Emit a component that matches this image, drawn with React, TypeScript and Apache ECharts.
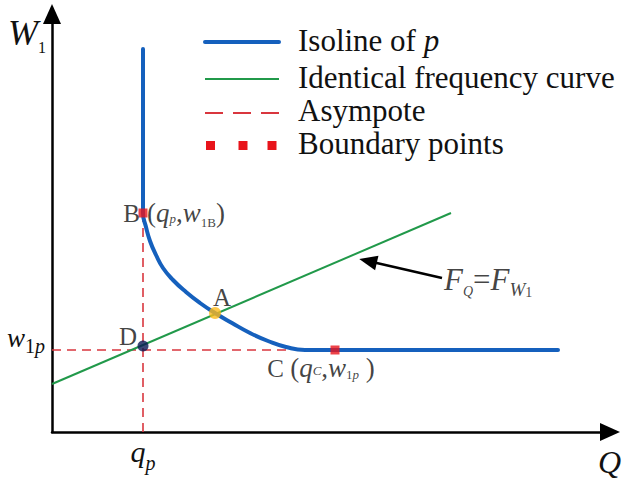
import React, { useEffect, useRef } from 'react';
import * as echarts from 'echarts';

const FONT = 'Liberation Serif, Times New Roman, serif';
const BLUE = '#1560BD';
const GREEN = '#21994A';
const RED_DASH = '#D9363E';
const RED = '#E8141B';
const GOLD = '#FBBA1B';
const NAVY = '#0B1A55';
const INK = '#111111';

// Isoline of p (Q on x, W1 on y)
const isolineQ = [91, 91, 94, 98, 104, 111, 121, 134, 148, 163, 180, 198, 216, 234, 253, 283, 506];
const isolineW = [383, 219, 205, 191, 177, 164, 152, 140, 129, 119, 109, 99, 91, 85, 82, 82, 82];
// Identical frequency curve F_Q = F_W1
const freqQ = [0, 399];
const freqW = [48, 219];
// Key values
const qp = 91;
const w1p = 82;
const w1B = 219;
const qC = 283;
const axisMaxQ = 558;
const axisMaxW = 418;
// Asymptotes
const asymVerticalW = [0, w1B];
const asymHorizontalQ = [0, 238];
// Special points
const pointA = [163, 119];
const pointD = [91, 86];
const boundaryQ = [qp, qC];
const boundaryW = [w1B, w1p];
// Annotation arrow (tip, tail)
const arrowQ = [316, 390];
const arrowW = [171, 154];

const zip = (xs: number[], ys: number[]) => xs.map((x, i) => [x, ys[i]]);

const serif = (size: number, italic = false, extra: any = {}) => ({
  fontFamily: FONT,
  fontSize: size,
  fontStyle: italic ? 'italic' : 'normal',
  color: INK,
  ...extra,
});

export default function App() {
  const ref = useRef<HTMLDivElement>(null);

  useEffect(() => {
    if (!ref.current) return;
    const chart = echarts.init(ref.current, undefined, { renderer: 'svg' });

    const pointRich = {
      t: serif(25, false, { lineHeight: 28 }),
      p: serif(27, false, { lineHeight: 28 }),
      i: serif(27, true, { lineHeight: 28 }),
      sp: serif(13, true, { lineHeight: 28, padding: [10, 0, 0, 0] }),
      sn: serif(13, false, { lineHeight: 28, padding: [18, 0, 0, 0] }),
      spc: serif(13, true, { lineHeight: 28, padding: [4, 0, 0, 0] }),
      snc: serif(13, false, { lineHeight: 28, padding: [12, 0, 0, 0] }),
      sic: serif(13, true, { lineHeight: 28, padding: [12, 0, 0, 0] }),
      F: serif(31, true, { lineHeight: 32 }),
      sQ: serif(14, true, { lineHeight: 32, padding: [24, 0, 0, 0] }),
      eq: serif(31, false, { lineHeight: 32 }),
      sW: serif(19, true, { lineHeight: 32, padding: [20, 0, 0, 0] }),
      s1: serif(14, false, { lineHeight: 32, padding: [26, 0, 0, 0] }),
    };

    const labelItems = [
      { value: [qp, w1B], label: { position: 'left', distance: 3, formatter: '{t|B}' } },
      {
        value: [qp, w1B],
        label: { position: 'right', distance: 4, formatter: '{p|(}{i|q}{sp|p}{p|,}{i|w}{sn|1B}{p|)}' },
      },
      { value: pointA, label: { position: 'inside', offset: [7, -16], formatter: '{t|A}' } },
      { value: pointD, label: { position: 'inside', offset: [-15, -10], formatter: '{t|D}' } },
      {
        value: [qC, w1p],
        label: {
          position: 'inside',
          offset: [-14, 18],
          formatter: '{t|C }{p|(}{i|q}{spc|C}{p|,}{i|w}{snc|1}{sic|p}{p| )}',
        },
      },
      {
        value: [arrowQ[1], arrowW[1]],
        label: {
          position: 'right',
          distance: 2,
          offset: [0, 1],
          formatter: '{F|F}{sQ|Q}{eq|=}{F|F}{sW|W}{s1|1}',
        },
      },
    ];

    const legendText = (y: number, rich: string) => ({
      type: 'text',
      x: 298,
      y,
      z: 100,
      style: {
        text: rich,
        fontFamily: FONT,
        fontSize: 31,
        verticalAlign: 'middle',
        fill: INK,
        rich: {
          n: { fontFamily: FONT, fontSize: 31, fill: INK },
          i: { fontFamily: FONT, fontSize: 31, fontStyle: 'italic', fill: INK },
        },
      },
    });

    const option: any = {
      animation: false,
      backgroundColor: '#ffffff',
      textStyle: { fontFamily: FONT },
      grid: { left: 52, right: 14, top: 14, bottom: 51, containLabel: false, outerBoundsMode: 'none' },
      xAxis: {
        type: 'value',
        min: 0,
        max: axisMaxQ,
        axisLine: {
          show: true,
          onZero: false,
          lineStyle: { color: '#000', width: 2.5 },
          symbol: ['none', 'triangle'],
          symbolSize: [18, 20],
        },
        axisTick: { show: false },
        splitLine: { show: false },
        axisLabel: {
          customValues: [qp],
          margin: 4,
          formatter: () => '{q|q}{s|p}',
          rich: {
            q: serif(30, true, { lineHeight: 30 }),
            s: serif(20, true, { lineHeight: 30, padding: [24, 0, 0, 0] }),
          },
        },
        name: 'Q',
        nameLocation: 'end',
        nameGap: -12,
        nameTextStyle: {
          fontFamily: FONT,
          fontSize: 32,
          fontStyle: 'italic',
          color: INK,
          align: 'left',
          verticalAlign: 'top',
          padding: [14, 0, 0, 0],
        },
      },
      yAxis: {
        type: 'value',
        min: 0,
        max: axisMaxW,
        axisLine: {
          show: true,
          onZero: false,
          lineStyle: { color: '#000', width: 2.5 },
          symbol: ['none', 'triangle'],
          symbolSize: [18, 20],
        },
        axisTick: { show: false },
        splitLine: { show: false },
        axisLabel: {
          customValues: [w1p],
          margin: 7,
          formatter: () => '{w|w}{n|1}{s|p}',
          rich: {
            w: serif(27, true, { lineHeight: 28, padding: [0, 0, 24, 0] }),
            n: serif(20, false, { lineHeight: 28, padding: [0, 0, 8, 0] }),
            s: serif(20, true, { lineHeight: 28, padding: [0, 0, 8, 0] }),
          },
        },
        name: '{w|W}{s|1}',
        nameLocation: 'end',
        nameGap: -18.5,
        nameTextStyle: {
          align: 'right',
          verticalAlign: 'middle',
          padding: [0, 6, 0, 0],
          rich: {
            w: serif(36, true, { lineHeight: 36 }),
            s: serif(16, false, { lineHeight: 36, padding: [29, 0, 0, 0] }),
          },
        },
      },
      series: [
        {
          name: 'Asympote',
          type: 'line',
          data: asymVerticalW.map((w) => [qp, w]),
          symbol: 'none',
          silent: true,
          lineStyle: { color: RED_DASH, width: 1.6, type: [9, 6] },
          z: 1,
        },
        {
          name: 'Asympote',
          type: 'line',
          data: asymHorizontalQ.map((q) => [q, w1p]),
          symbol: 'none',
          silent: true,
          lineStyle: { color: RED_DASH, width: 1.6, type: [9, 6] },
          z: 1,
        },
        {
          name: 'Identical frequency curve',
          type: 'line',
          data: zip(freqQ, freqW),
          symbol: 'none',
          silent: true,
          lineStyle: { color: GREEN, width: 2 },
          z: 2,
        },
        {
          name: 'Isoline of p',
          type: 'line',
          data: zip(isolineQ, isolineW),
          symbol: 'none',
          smooth: 0.5,
          silent: true,
          lineStyle: { color: BLUE, width: 4, cap: 'round' },
          z: 3,
        },
        {
          name: 'arrow',
          type: 'line',
          data: [],
          silent: true,
          markLine: {
            silent: true,
            symbol: ['triangle', 'none'],
            symbolSize: [15, 18],
            label: { show: false },
            lineStyle: { color: '#000', width: 2.5, type: 'solid' },
            data: [[{ coord: [arrowQ[0], arrowW[0]] }, { coord: [arrowQ[1], arrowW[1]] }]],
          },
          z: 4,
        },
        {
          name: 'Boundary points',
          type: 'scatter',
          data: zip(boundaryQ, boundaryW),
          symbol: 'rect',
          symbolSize: 9,
          itemStyle: { color: RED },
          silent: true,
          z: 5,
        },
        {
          name: 'A',
          type: 'scatter',
          data: [pointA],
          symbol: 'circle',
          symbolSize: 12,
          itemStyle: { color: GOLD },
          silent: true,
          z: 5,
        },
        {
          name: 'D',
          type: 'scatter',
          data: [pointD],
          symbol: 'circle',
          symbolSize: 11,
          itemStyle: { color: NAVY },
          silent: true,
          z: 5,
        },
        {
          name: 'labels',
          type: 'scatter',
          data: labelItems,
          symbolSize: 0,
          silent: true,
          label: { show: true, rich: pointRich, color: INK },
          z: 6,
        },
      ],
      graphic: [
        { type: 'line', z: 100, shape: { x1: 205, y1: 42, x2: 279, y2: 42 }, style: { stroke: BLUE, lineWidth: 4, lineCap: 'round' } },
        legendText(40, '{n|Isoline of }{i|p}'),
        { type: 'line', z: 100, shape: { x1: 205, y1: 79, x2: 279, y2: 79 }, style: { stroke: GREEN, lineWidth: 2 } },
        legendText(77, '{n|Identical frequency curve}'),
        { type: 'line', z: 100, shape: { x1: 205, y1: 113, x2: 279, y2: 113 }, style: { stroke: RED_DASH, lineWidth: 2, lineDash: [18, 10] } },
        legendText(110, '{n|Asympote}'),
        { type: 'rect', z: 100, shape: { x: 206, y: 141, width: 9, height: 9 }, style: { fill: RED } },
        { type: 'rect', z: 100, shape: { x: 238.5, y: 141, width: 9, height: 9 }, style: { fill: RED } },
        { type: 'rect', z: 100, shape: { x: 267.5, y: 141, width: 9, height: 9 }, style: { fill: RED } },
        legendText(143, '{n|Boundary points}'),
      ],
    };

    chart.setOption(option);
    return () => chart.dispose();
  }, []);

  return (
    <div
      ref={ref}
      style={{ position: 'absolute', left: 0, top: 0, width: 624, height: 483, background: '#fff' }}
    />
  );
}
